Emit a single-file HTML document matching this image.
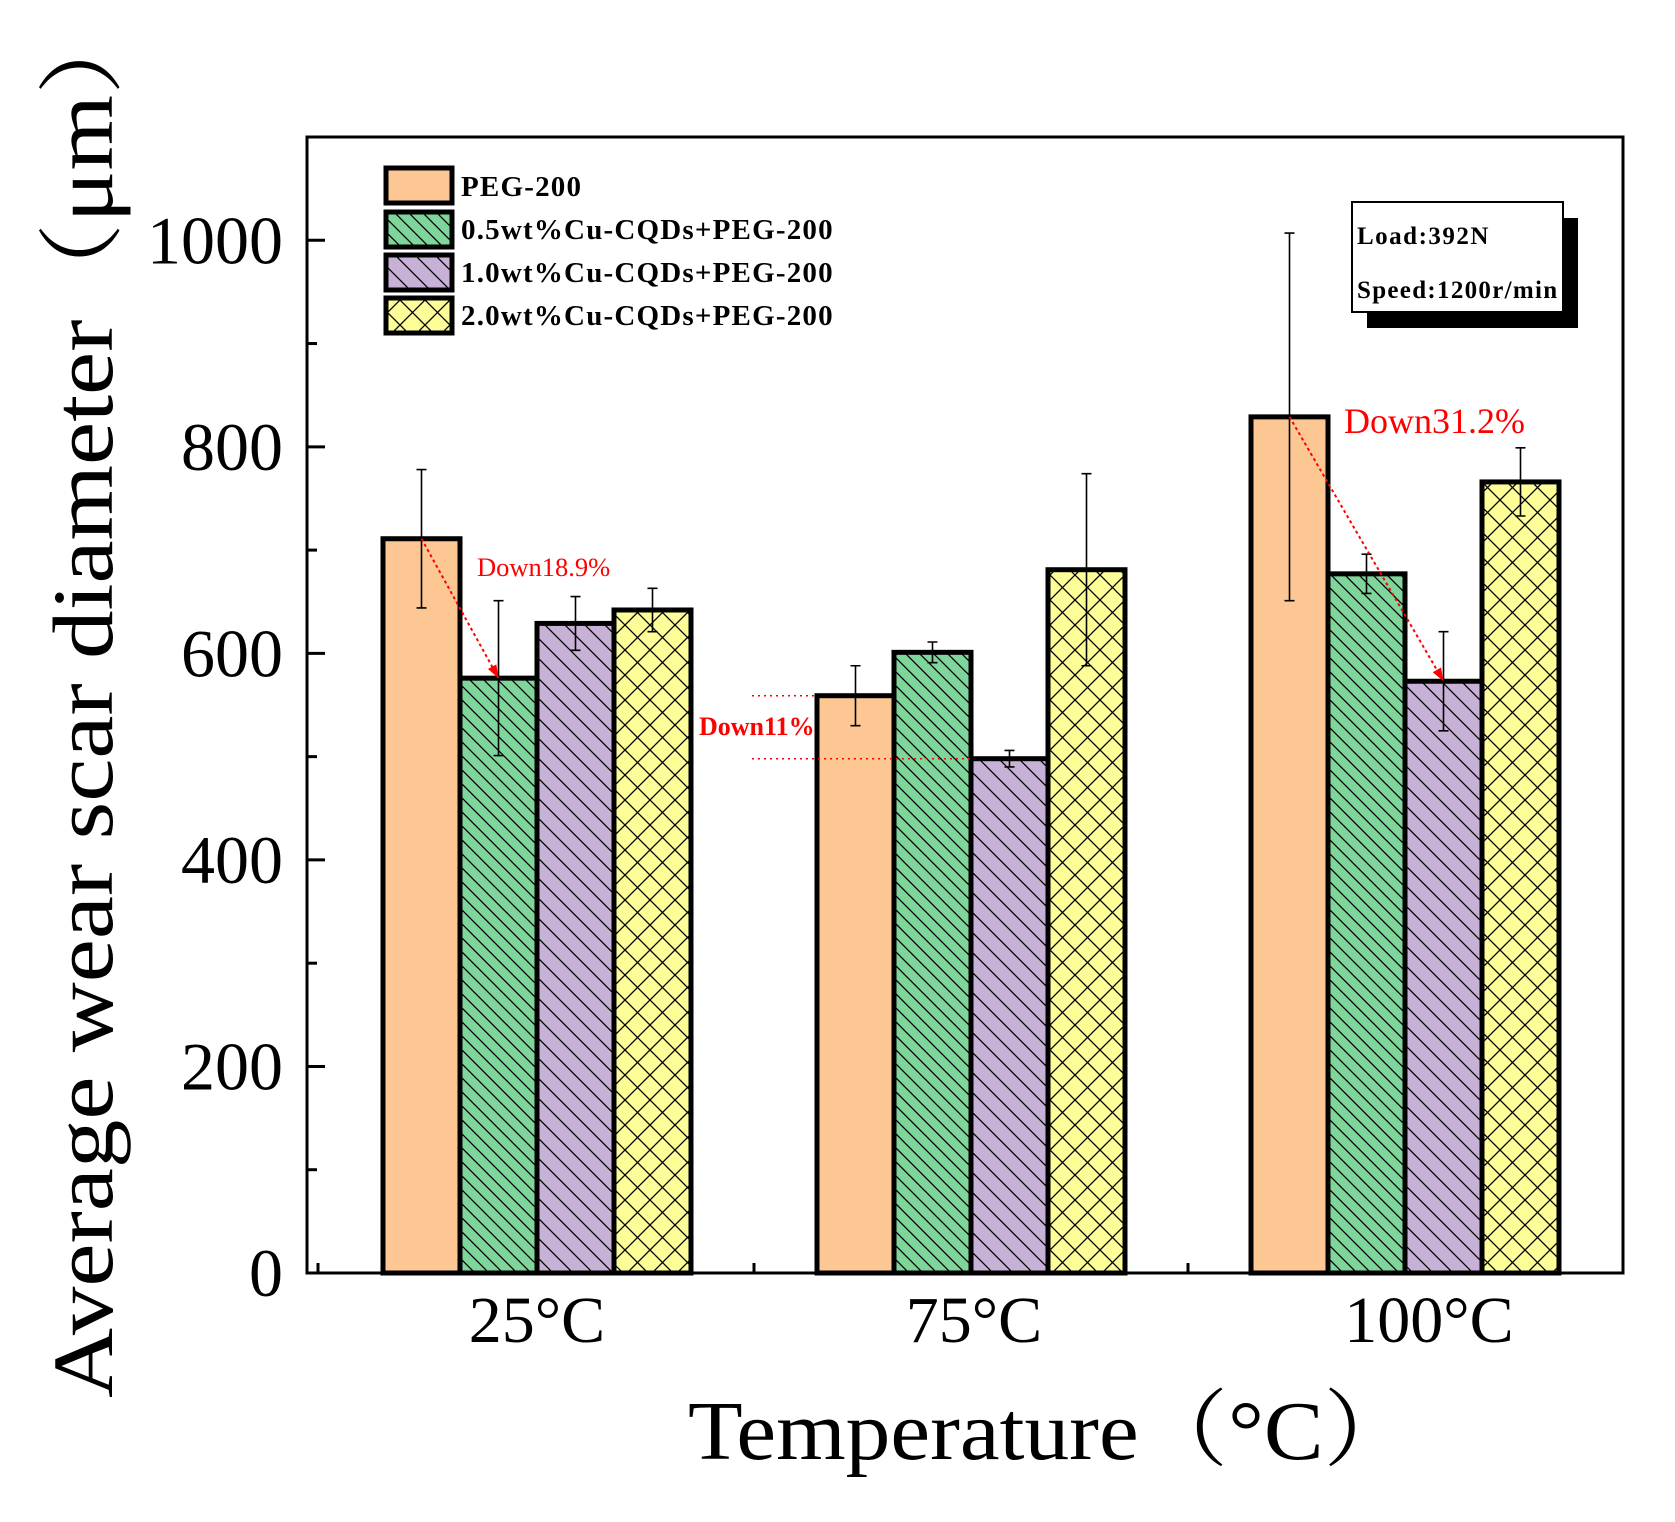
<!DOCTYPE html>
<html><head><meta charset="utf-8"><style>html,body{margin:0;padding:0;background:#fff}svg{display:block}</style></head>
<body>
<svg id="chart" width="1675" height="1522" viewBox="0 0 1675 1522" xmlns="http://www.w3.org/2000/svg" font-family="'Liberation Serif', 'Noto Serif CJK SC', serif">
<defs>
<pattern id="pg" patternUnits="userSpaceOnUse" width="14" height="14"><path d="M-2,-2 L16,16 M-2,12 L2,16 M12,-2 L16,2" stroke="#000" stroke-width="1.3"/></pattern>
<pattern id="pp" patternUnits="userSpaceOnUse" width="20" height="20"><path d="M-2,-2 L22,22 M-2,18 L2,22 M18,-2 L22,2" stroke="#000" stroke-width="1.3"/></pattern>
<pattern id="py" patternUnits="userSpaceOnUse" width="25" height="25"><path d="M0,0 L25,25 M25,0 L0,25" stroke="#000" stroke-width="1.3"/></pattern>
</defs>
<g id="bars"></g>
<g id="axes"></g>
<g>
 <rect x="386" y="168" width="66" height="35" fill="#FDC794" stroke="#000" stroke-width="5"/>
 <rect x="386" y="212" width="66" height="35" fill="#7FD69B" stroke="#000" stroke-width="5"/>
 <rect x="386" y="212" width="66" height="35" fill="url(#pg)"/>
 <rect x="386" y="255" width="66" height="35" fill="#C8B1D6" stroke="#000" stroke-width="5"/>
 <rect x="386" y="255" width="66" height="35" fill="url(#pp)"/>
 <rect x="386" y="298" width="66" height="35" fill="#FEFE99" stroke="#000" stroke-width="5"/>
 <rect x="386" y="298" width="66" height="35" fill="url(#py)"/>
 <g font-weight="bold" font-size="29" letter-spacing="1.2">
  <text x="461" y="196">PEG-200</text>
  <text x="461" y="239">0.5wt%Cu-CQDs+PEG-200</text>
  <text x="461" y="282">1.0wt%Cu-CQDs+PEG-200</text>
  <text x="461" y="325">2.0wt%Cu-CQDs+PEG-200</text>
 </g>
</g>
<g>
 <rect x="1367" y="218" width="211" height="110" fill="#000"/>
 <rect x="1352" y="202" width="211" height="110" fill="#fff" stroke="#000" stroke-width="2"/>
 <text x="1357" y="244" font-weight="bold" font-size="25" letter-spacing="1.5">Load:392N</text>
 <text x="1357" y="298" font-weight="bold" font-size="25" letter-spacing="1.3">Speed:1200r/min</text>
</g>
<g fill="#f00">
 <text x="477" y="576" font-size="26.5">Down18.9%</text>
 <text x="699" y="735" font-size="26" font-weight="bold">Down11%</text>
 <text x="1344" y="433" font-size="36">Down31.2%</text>
</g>
<g id="annlines"></g>
<text x="688" y="1459" font-size="84" textLength="725" lengthAdjust="spacingAndGlyphs">Temperature（°C）</text>
<text transform="translate(112,1398) rotate(-90)" font-size="86" textLength="1400" lengthAdjust="spacingAndGlyphs">Average wear scar diameter（μm）</text>
</svg>
<script>
const categories = ['25°C', '75°C', '100°C'];
const seriesNames = ['PEG-200', '0.5wt%Cu-CQDs+PEG-200', '1.0wt%Cu-CQDs+PEG-200', '2.0wt%Cu-CQDs+PEG-200'];
const pegValues = [711, 559, 829];
const cu05Values = [576, 601, 677];
const cu10Values = [629, 498, 573];
const cu20Values = [642, 681, 766];
const pegErr = [67, 29, 178];
const cu05Err = [75, 10, 19];
const cu10Err = [26, 8, 48];
const cu20Err = [21, 93, 33];
const yTicks = [0, 200, 400, 600, 800, 1000];

const NS = 'http://www.w3.org/2000/svg';
const L = 307, R = 1623, T = 137, B = 1273, YMAX = 1100;
const yS = v => B - v / YMAX * (B - T);
const groupC = i => 537 + i * 434;
const BW = 77;
const barX = (i, s) => groupC(i) - 2 * BW + s * BW;
const labelShift = [0, 3, 24];
function mk(tag, attrs, parent) { const e = document.createElementNS(NS, tag); for (const k in attrs) e.setAttribute(k, attrs[k]); parent.appendChild(e); return e; }
const bars = document.getElementById('bars'), axes = document.getElementById('axes'), ann = document.getElementById('annlines');
const series = [pegValues, cu05Values, cu10Values, cu20Values];
const errs = [pegErr, cu05Err, cu10Err, cu20Err];
const fills = ['#FDC794', '#7FD69B', '#C8B1D6', '#FEFE99'];
const pats = [null, 'url(#pg)', 'url(#pp)', 'url(#py)'];
const keys = ['peg', 'cu05', 'cu10', 'cu20'];
for (let i = 0; i < categories.length; i++) {
  for (let s = 0; s < 4; s++) {
    const v = series[s][i], x = barX(i, s), y = yS(v);
    const r = mk('rect', { x: x, y: y, width: BW, height: B - y, fill: fills[s] }, bars);
    
    
    if (pats[s]) mk('rect', { x: x, y: y, width: BW, height: B - y, fill: pats[s] }, bars);
    mk('rect', { x: x, y: y, width: BW, height: B - y, fill: 'none', stroke: '#000', 'stroke-width': 5 }, bars);
  }
}
for (let i = 0; i < categories.length; i++) {
  for (let s = 0; s < 4; s++) {
    const cx = barX(i, s) + BW / 2, v = series[s][i], e = errs[s][i];
    const g = mk('path', { d: `M${cx},${yS(v + e)} L${cx},${yS(v - e)} M${cx - 5},${yS(v + e)} L${cx + 5},${yS(v + e)} M${cx - 5},${yS(v - e)} L${cx + 5},${yS(v - e)}`, stroke: '#000', 'stroke-width': 1.6, fill: 'none' }, bars);
    
    
  }
}
mk('path', { d: `M${L},${T} L${R},${T} L${R},${B} L${L},${B} Z`, fill: 'none', stroke: '#000', 'stroke-width': 3 }, axes);
for (let v = 0; v <= YMAX; v += 100) {
  const len = v % 200 === 0 ? 18 : 10;
  mk('line', { x1: L, x2: L + len, y1: yS(v), y2: yS(v), stroke: '#000', 'stroke-width': 3 }, axes);
}
yTicks.forEach(v => {
  const t = mk('text', { x: 283, y: yS(v) + 23, 'text-anchor': 'end', 'font-size': 68 }, axes);
  t.textContent = v;
  
  
});
[318, (groupC(0) + groupC(1)) / 2, (groupC(1) + groupC(2)) / 2].forEach(x => mk('line', { x1: x, x2: x, y1: B, y2: B - 10, stroke: '#000', 'stroke-width': 3 }, axes));
categories.forEach((c, i) => {
  const t = mk('text', { x: groupC(i) + labelShift[i], y: 1342, 'text-anchor': 'middle', 'font-size': 66 }, axes);
  t.textContent = c;
  
  
});
function arrow(x1, y1, x2, y2) {
  mk('line', { x1, y1, x2, y2, stroke: '#f00', 'stroke-width': 2, 'stroke-dasharray': '3,3' }, ann);
  const a = Math.atan2(y2 - y1, x2 - x1), h = 14;
  const p = [[x2, y2], [x2 - h * Math.cos(a - 0.35), y2 - h * Math.sin(a - 0.35)], [x2 - h * Math.cos(a + 0.35), y2 - h * Math.sin(a + 0.35)]];
  mk('polygon', { points: p.map(q => q.join(',')).join(' '), fill: '#f00' }, ann);
}
arrow(barX(0, 0) + BW / 2, yS(pegValues[0]), barX(0, 1) + BW / 2, yS(cu05Values[0]));
arrow(barX(2, 0) + BW / 2, yS(pegValues[2]), barX(2, 2) + BW / 2, yS(cu10Values[2]));
mk('line', { x1: 752, x2: barX(1, 0), y1: yS(pegValues[1]), y2: yS(pegValues[1]), stroke: '#f00', 'stroke-width': 1.5, 'stroke-dasharray': '2,4' }, ann);
mk('line', { x1: 752, x2: barX(1, 2), y1: yS(cu10Values[1]), y2: yS(cu10Values[1]), stroke: '#f00', 'stroke-width': 1.5, 'stroke-dasharray': '2,4' }, ann);
</script>
</body></html>
